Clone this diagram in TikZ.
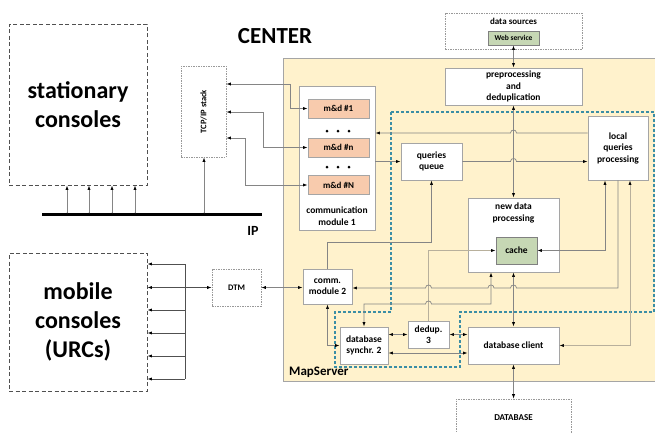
\documentclass[tikz,border=0pt]{standalone}
\usepackage{fontspec}
\setmainfont{Carlito}
\usetikzlibrary{arrows.meta,calc}
\definecolor{msbeige}{HTML}{FFF2CC}
\definecolor{mdsalmon}{HTML}{F8CBAD}
\definecolor{cachegreen}{HTML}{C6D7B4}
\definecolor{tealdash}{HTML}{3B8EA5}
\definecolor{lnA}{HTML}{858585}
\definecolor{lnB}{HTML}{B8B09C}
\definecolor{bordergray}{HTML}{A5A5A5}
\definecolor{dashgray}{HTML}{505050}
\definecolor{dotgray}{HTML}{999999}
\newcommand\hopL[2]{-- ({#1+3},#2) .. controls ({#1+3},{#2-4}) and ({#1-3},{#2-4}) .. ({#1-3},#2)}
\newcommand\hopR[2]{-- ({#1-3},#2) .. controls ({#1-3},{#2-4}) and ({#1+3},{#2-4}) .. ({#1+3},#2)}
\begin{document}
\begin{tikzpicture}[x=1pt,y=-1pt,
  sz/.style 2 args={minimum width=#1pt, minimum height=#2pt},
  ln/.style={draw=lnA, line width=0.7pt},
  lnl/.style={draw=lnB, line width=0.7pt},
  a1/.style={-{Latex[length=4.5pt,width=3.2pt,color=black]}},
  a2/.style={{Latex[length=4.5pt,width=3.2pt,color=black]}-{Latex[length=4.5pt,width=3.2pt,color=black]}},
  blk/.style={draw=bordergray, fill=white, line width=0.9pt, inner sep=0pt, align=center, font=\bfseries\fontsize{9.5}{11.5}\selectfont},
  md/.style={blk, fill=mdsalmon, sz={61}{19}, font=\bfseries\fontsize{9}{11}\selectfont},
  grn/.style={blk, fill=cachegreen, draw=gray},
  dotbox/.style={draw=dotgray, dash pattern=on 1.5pt off 1pt, line width=0.7pt, inner sep=0pt, align=center, font=\bfseries\fontsize{8.5}{10}\selectfont},
  dashbox/.style={draw=dashgray, dash pattern=on 4pt off 2.5pt, line width=0.9pt, inner sep=0pt, align=center, font=\bfseries\fontsize{24}{29}\selectfont},
  txt/.style={inner sep=0pt, align=center, font=\bfseries\fontsize{9.5}{11.5}\selectfont}
]
\useasboundingbox (0,0) rectangle (655,432);
\clip (0,0) rectangle (655,432);

% MapServer background
\node[draw=bordergray, fill=msbeige, line width=0.9pt, inner sep=0pt, sz={376}{323}] (ms) at (471,219.5) {};
\node[anchor=base west, inner sep=0pt, font=\bfseries\fontsize{13}{15}\selectfont] (mslbl) at (289,375) {MapServer};
\draw[tealdash, line width=1.3pt, dash pattern=on 3pt off 2pt] (391,112) -- (654,112) -- (654,312) -- (460,312) -- (460,367) -- (335,367) -- (335,312) -- (391,312) -- cycle;

% title
\node[inner sep=0pt, font=\bfseries\fontsize{23}{27}\selectfont] (center) at (275,36) {CENTER};

% consoles
\node[dashbox, sz={138}{161}] (stat) at (78,104.5) {stationary\\consoles};
\node[dashbox, sz={138}{138}] (mob) at (78,322) {mobile\\consoles\\(URCs)};

% IP bus
\coordinate (busL) at (42,214);
\coordinate (busR) at (262,214);
\draw[line width=3pt] (busL) -- (busR);
\node[inner sep=0pt, font=\bfseries\fontsize{14}{16}\selectfont] (iplbl) at (253,231) {IP};
\coordinate (b1) at (67,214);
\coordinate (b2) at (89,214);
\coordinate (b3) at (112,214);
\coordinate (b4) at (135,214);
\coordinate (b5) at (204,214);

% TCP/IP stack
\node[dotbox, sz={45}{91}] (tcp) at (203.5,111.5) {};
\node[rotate=90, inner sep=0pt, font=\bfseries\fontsize{8.5}{10}\selectfont] (tcplbl) at (tcp.center) {TCP/IP stack};

\foreach \b in {b1,b2,b3,b4} {
  \draw[ln, a1] (\b) -- (\b |- stat.south);
  \fill (\b) circle (1.3pt);
}
\draw[ln, a1] (b5) -- (b5 |- tcp.south);
\fill (b5) circle (1.3pt);

% communication module 1
\node[blk, sz={76}{144}] (comm1) at (337,158) {};
\node[txt] (comm1lbl) at (337,216) {communication\\module 1};
\node[md] (md1) at (338.5,108.5) {m\&d \#1};
\node[md] (mdn) at (338.5,147.5) {m\&d \#n};
\node[md] (mdN) at (338.5,185) {m\&d \#N};
\foreach \y in {131,167} {
  \foreach \x in {327,338,349} \fill (\x,\y) circle (1.5pt);
}

\draw[ln, a2] (tcp.east |- 0,84) -| (290,0 |- md1.west) -- (md1.west);
\draw[ln, a2] (tcp.east |- 0,112) -| (263,0 |- mdn.west) -- (mdn.west);
\draw[ln, a2] (tcp.east |- 0,138) -| (245,0 |- mdN.west) -- (mdN.west);

% data sources and preprocessing
\node[dotbox, fill=white, sz={137}{36}] (ds) at (513.5,31) {};
\node[txt, font=\bfseries\fontsize{9}{10}\selectfont] (dslbl) at (513.5,21) {data sources};
\node[grn, sz={51}{14}, font=\bfseries\fontsize{7.5}{9}\selectfont] (ws) at (513.5,38) {Web service};
\node[blk, sz={137}{37}] (pre) at (513.5,86.5) {preprocessing\\and\\deduplication};

% inner boxes
\node[blk, sz={61}{37}] (qq) at (431.5,161.5) {queries\\queue};
\node[blk, sz={60}{64}] (lqp) at (618,148) {local\\queries\\processing};
\node[blk, sz={91}{74}] (nd) at (513.5,235) {};
\node[txt] (ndlbl) at (513.5,213) {new data\\processing};
\node[grn, sz={41}{27}] (cache) at (516.5,250.5) {cache};
\node[blk, sz={49}{35}] (comm2) at (327.5,286.5) {comm.\\module 2};
\node[blk, sz={48}{37}] (dbs) at (364,345.5) {database\\synchr. 2};
\node[blk, sz={41}{27}] (dd) at (428.5,334.5) {dedup.\\3};
\node[blk, sz={91}{37}] (dbc) at (513.5,345.5) {database client};
\node[dotbox, fill=white, sz={115}{41}] (db) at (513.5,419.5) {};
\node[txt, font=\bfseries\fontsize{9}{10}\selectfont] (dblbl) at (513.5,418) {DATABASE};
\node[dotbox, fill=white, sz={49}{37}] (dtm) at (236.5,287.5) {DTM};

% connectors in MapServer
\draw[ln, a2] (ws.south) -- (pre.north);
\draw[ln, a2] (pre.south) -- (nd.north);
\draw[ln, a1] (lqp.west |- 0,133) \hopL{513.5}{133} -- (comm1.east |- 0,133);
\draw[ln, a1] (comm1.east |- qq.west) -- (qq.west);
\draw[ln, a1] (qq.east) \hopR{513.5}{161.5} -- (lqp.west |- qq.east);
\draw[ln, a1] (comm2.north) -- (comm2.north |- 0,242) -| (qq.south);
\draw[ln, a2] (lqp.south -| 605,0) |- (cache.east);
\draw[lnl, a1] (dd.north) |- (cache.west);
\draw[ln, a1] (lqp.south) -- (lqp.south |- 0,288) \hopL{513.5}{288} \hopL{491}{288} \hopL{428.5}{288} -- (comm2.east |- 0,288);
\draw[ln, a2] (nd.south -| 491,0) -- (491,304) \hopL{428.5}{304} -- (dbs.north |- 0,304) -- (dbs.north);
\draw[ln, a2] (nd.south) -- (dbc.north);
\draw[ln, a2] (dbc.south) -- (db.north);
\draw[lnl, a2] (lqp.south -| 630,0) |- (dbc.east);
\draw[ln, a2] (comm2.south) |- (dbs.west);
\draw[ln, a2] (dbs.east |- dd.west) -- (dd.west);
\draw[ln, a2] (dd.east) -- (dbc.west |- dd.east);
\draw[ln, a2] (dbs.east |- 0,353) -- (dbc.west |- 0,353);

% mobile side
\coordinate (mv1) at (185,264);
\coordinate (mv3) at (185,310);
\coordinate (mv4) at (185,333);
\coordinate (mv5) at (185,356);
\coordinate (mv6) at (185,379);
\draw[draw=dashgray, line width=0.75pt] (mv1) -- (mv6);
\foreach \m in {mv1,mv3,mv4,mv5,mv6} \draw[draw=dashgray, line width=0.75pt, a1] (\m) -- (mob.east |- \m);
\draw[draw=dashgray, line width=0.75pt, a2] (dtm.west) -- (mob.east |- dtm.west);
\draw[ln, a2] (dtm.east) -- (comm2.west |- dtm.east);
\end{tikzpicture}
\end{document}
